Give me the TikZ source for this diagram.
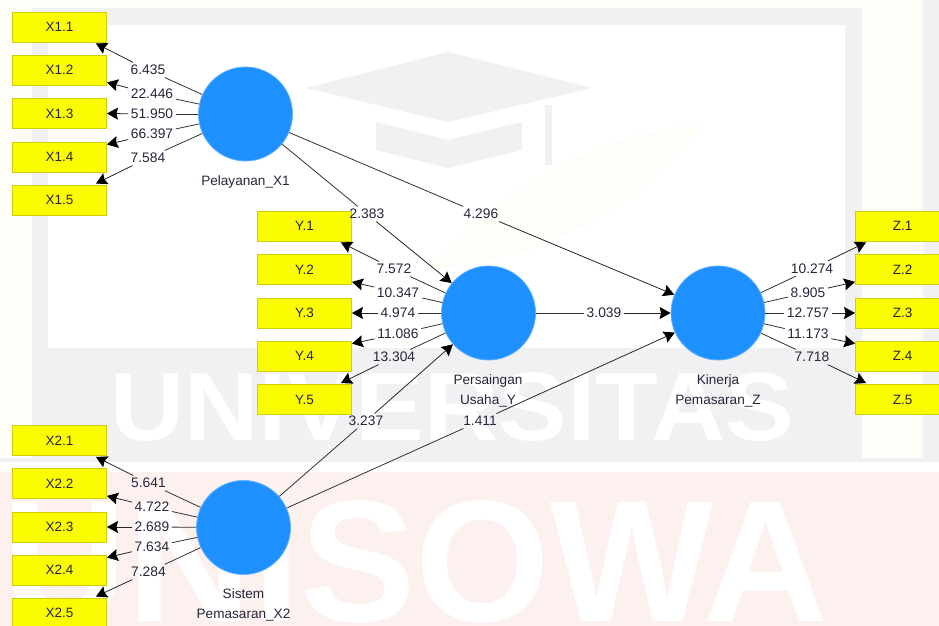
\documentclass[tikz,border=0pt]{standalone}
\usepackage{fontspec}
\setmainfont{Liberation Sans}
\usetikzlibrary{arrows.meta,calc}
\definecolor{wmgray}{HTML}{F1F1F3}
\definecolor{wmcream}{HTML}{FFFDF7}
\definecolor{wmpink}{HTML}{FDF1F0}
\definecolor{wmleaf}{HTML}{FFFDF8}
\definecolor{boxy}{HTML}{FCFC00}
\definecolor{boxb}{HTML}{CFCF10}
\definecolor{lv}{HTML}{1E90FF}
\definecolor{ink}{HTML}{26263A}
\tikzset{
  x=1pt,y=-1pt,
  indbox/.style={draw=boxb,line width=0.9pt,fill=boxy,minimum width=94pt,minimum height=30pt,inner sep=0pt,text=ink,font=\fontsize{13.5}{14}\selectfont},
  latent/.style={circle,fill=lv,draw=lv!70!white,line width=0.8pt,minimum size=94pt,inner sep=0pt},
  valtext/.style={inner sep=2.5pt,text=ink,font=\fontsize{13.8}{14}\selectfont},
  lvcap/.style={align=center,text=ink,font=\fontsize{13.6}{19.5}\selectfont},
  leadline/.style={draw=black!80,line width=0.8pt},
  tipline/.style={draw=black!85,line width=0.8pt,-{Stealth[length=11pt,width=12pt,inset=1.5pt,color=black]}},
  wmw/.style={text=white,inner sep=0pt}
}
\newcommand{\link}[3]{\draw[leadline] (#1) -- (#2); \draw[tipline] (#2) -- (#3);}
\begin{document}
\begin{tikzpicture}
\useasboundingbox (0,0) rectangle (939,626);
% watermark
\fill[white] (0,0) rectangle (939,626);
\fill[wmcream] (0,0) rectangle (939,470);
\fill[wmgray] (32,8) rectangle (862,458);
\fill[wmgray] (923,0) rectangle (939,458);
\fill[wmgray] (0,458) rectangle (939,462);
\fill[white] (48,25) rectangle (845,348);
\fill[white] (0,462) rectangle (939,472);
\fill[wmpink] (0,472) rectangle (939,626);
\fill[wmgray] (306,88) -- (448,52) -- (592,88) -- (448,122) -- cycle;
\fill[wmgray] (376,122) -- (448,140) -- (522,122) -- (522,150) -- (448,168) -- (376,150) -- cycle;
\fill[wmgray] (545,105) rectangle (552,165);
\fill[wmleaf] (425,270) .. controls (520,170) and (620,130) .. (700,125) .. controls (660,190) and (560,260) .. cycle;
\node[wmw,anchor=base west,transform shape,xscale=1.06,font=\fontsize{97}{97}\bfseries\selectfont] (wmu) at (110,440) {UNIVERSITAS};
\node[wmw,anchor=base west,font=\fontsize{173}{173}\bfseries\selectfont] (wmo) at (2,621) {UNISOWA};

% latent variables
\node[latent] (p) at (245.5,114) {};
\node[latent] (s) at (243.5,527.5) {};
\node[latent] (u) at (488.5,313) {};
\node[latent] (k) at (718,313) {};
\node[lvcap] (pc) at (245.5,182) {Pelayanan\_X1};
\node[lvcap] (uc) at (488,391) {Persaingan\\Usaha\_Y};
\node[lvcap] (kc) at (718,391) {Kinerja\\Pemasaran\_Z};
\node[lvcap] (sc) at (243.5,605) {Sistem\\Pemasaran\_X2};

% indicators
\foreach \n/\t/\x/\y in {
 a1/X1.1/59.5/27, a2/X1.2/59.5/70, a3/X1.3/59.5/113.5, a4/X1.4/59.5/157, a5/X1.5/59.5/200,
 y1/Y.1/304.5/226, y2/Y.2/304.5/269.5, y3/Y.3/304.5/313, y4/Y.4/304.5/356, y5/Y.5/304.5/399.5,
 b1/X2.1/59.5/440.5, b2/X2.2/59.5/483.5, b3/X2.3/59.5/527, b4/X2.4/59.5/570, b5/X2.5/59.5/613,
 z1/Z.1/902.5/226, z2/Z.2/902.5/269.5, z3/Z.3/902.5/313, z4/Z.4/902.5/356, z5/Z.5/902.5/399.5}
 \node[indbox] (\n) at (\x,\y) {\t};

% values
\foreach \n/\t/\x/\y in {
 la1/6.435/148/70, la2/22.446/152/94, la3/51.950/152/114, la4/66.397/152/134, la5/7.584/148/158,
 ly1/7.572/394/269, ly2/10.347/398/292.5, ly3/4.974/398/313, ly4/11.086/398/334, ly5/13.304/394/357,
 lb1/5.641/148.5/483, lb2/4.722/152/507, lb3/2.689/152/527, lb4/7.634/152/547, lb5/7.284/148.5/572,
 lz1/10.274/812/268.5, lz2/8.905/808/292.5, lz3/12.757/808/313, lz4/11.173/808/334, lz5/7.718/812/357,
 lpu/2.383/367/214, lpk/4.296/481/214, luk/3.039/604/313, lsu/3.237/366/421, lsk/1.411/480/421}
 \node[valtext] (\n) at (\x,\y) {\t};

% connectors
\link{p}{la1}{[xshift=-11pt,yshift=-1pt]a1.south east}
\link{p}{la2}{[yshift=3pt]a2.south east}
\link{p}{la3}{a3.east}
\link{p}{la4}{[yshift=-3pt]a4.north east}
\link{p}{la5}{[xshift=-11pt,yshift=1pt]a5.north east}
\link{u}{ly1}{[xshift=-11pt,yshift=-1pt]y1.south east}
\link{u}{ly2}{[yshift=3pt]y2.south east}
\link{u}{ly3}{y3.east}
\link{u}{ly4}{[yshift=-3pt]y4.north east}
\link{u}{ly5}{[xshift=-11pt,yshift=1pt]y5.north east}
\link{s}{lb1}{[xshift=-11pt,yshift=-1pt]b1.south east}
\link{s}{lb2}{[yshift=3pt]b2.south east}
\link{s}{lb3}{b3.east}
\link{s}{lb4}{[yshift=-3pt]b4.north east}
\link{s}{lb5}{[xshift=-11pt,yshift=1pt]b5.north east}
\link{k}{lz1}{[xshift=11pt,yshift=-1pt]z1.south west}
\link{k}{lz2}{[yshift=3pt]z2.south west}
\link{k}{lz3}{z3.west}
\link{k}{lz4}{[yshift=-3pt]z4.north west}
\link{k}{lz5}{[xshift=11pt,yshift=1pt]z5.north west}
\link{p}{lpu}{u}
\link{p}{lpk}{k}
\link{u}{luk}{k}
\link{s}{lsu}{u}
\link{s}{lsk}{k}
\end{tikzpicture}
\end{document}
